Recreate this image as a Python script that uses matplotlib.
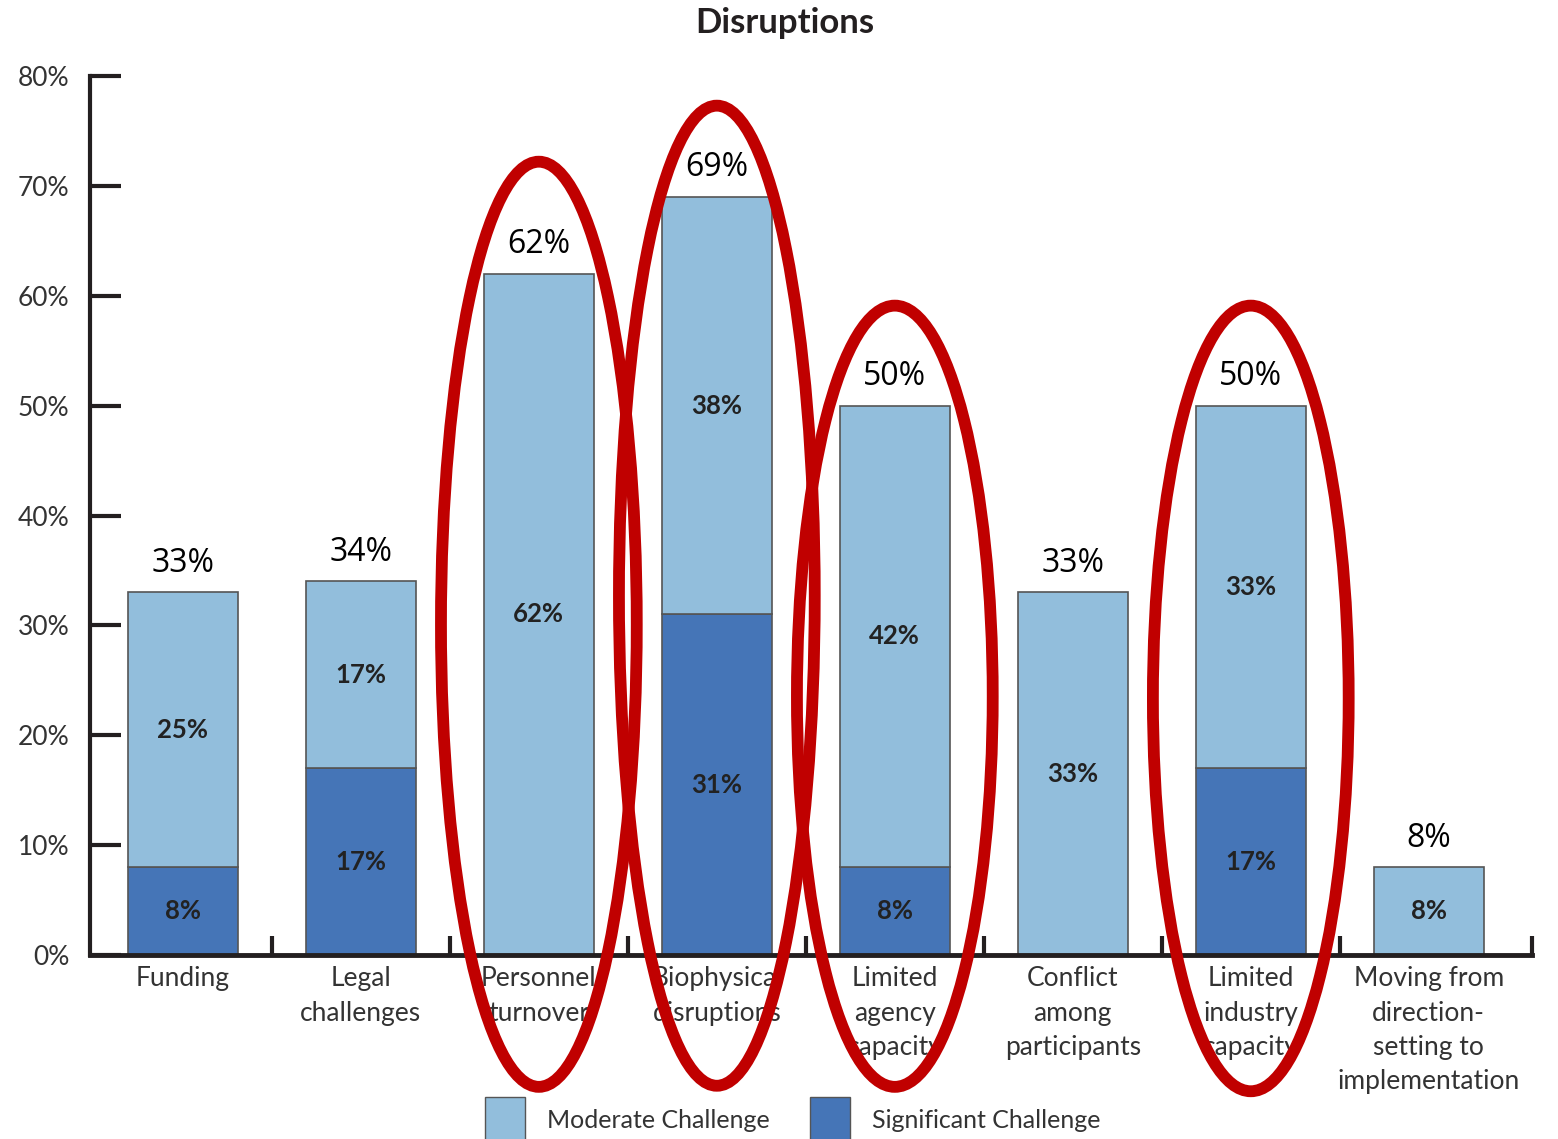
import numpy as np
import matplotlib.pyplot as plt
from matplotlib.patches import Ellipse, Patch

categories = ["Funding", "Legal\nchallenges", "Personnel\nturnover",
              "Biophysical\ndisruptions", "Limited\nagency\ncapacity",
              "Conflict\namong\nparticipants", "Limited\nindustry\ncapacity",
              "Moving from\ndirection-\nsetting to\nimplementation"]
significant = [8, 17, 0, 31, 8, 0, 17, 0]
moderate = [25, 17, 62, 38, 42, 33, 33, 8]
totals = [33, 34, 62, 69, 50, 33, 50, 8]
yticks = [0, 10, 20, 30, 40, 50, 60, 70, 80]

# highlighted categories: (index, top %, bottom %)
highlights = [(2, 72.2, -12.0), (3, 77.3, -11.9), (4, 59.1, -12.0), (6, 59.1, -12.4)]

light = "#92bedc"
dark = "#4575b7"
ink = "#231f20"
txt = "#333333"

fig = plt.figure(figsize=(15.58, 11.39), dpi=100)
ax = fig.add_axes([90/1558, 1-955/1139, (1532-90)/1558, (955-76)/1139])

x = np.arange(len(categories))
w = 0.62
ax.bar(x, significant, w, color=dark, edgecolor="#555555", linewidth=1.2, zorder=2)
ax.bar(x, moderate, w, bottom=significant, color=light, edgecolor="#555555",
       linewidth=1.2, zorder=2)

for i in range(len(categories)):
    if significant[i] > 0:
        ax.text(x[i], significant[i]/2, f"{significant[i]}%", ha="center", va="center",
                fontsize=18.5, fontweight="bold", family="Lato", color="#222222", zorder=3)
    if moderate[i] > 0:
        ax.text(x[i], significant[i] + moderate[i]/2, f"{moderate[i]}%", ha="center",
                va="center", fontsize=18.5, fontweight="bold", family="Lato",
                color="#222222", zorder=3)
    ax.annotate(f"{totals[i]}%", (x[i], totals[i]), xytext=(0, 9),
                textcoords="offset points", ha="center", va="bottom",
                fontsize=23, family="Open Sans", color="black")

ax.set_xlim(-0.522, 7.58)
ax.set_ylim(0, 80)
ax.set_yticks(yticks)
ax.set_yticklabels([f"{t}%" for t in yticks])
ax.set_xticks(x)
ax.set_xticklabels(categories, linespacing=1.47)
ax.set_xticks(list(np.arange(0.5, 7, 1)) + [7.58], minor=True)

ax.tick_params(axis="y", direction="in", length=22, width=3, color=ink, pad=15,
               labelsize=19, labelcolor=txt)
ax.tick_params(axis="x", which="major", length=0, pad=8, labelsize=19, labelcolor=txt)
ax.tick_params(axis="x", which="minor", direction="in", length=14, width=3, color=ink)
for lab in ax.get_xticklabels() + ax.get_yticklabels():
    lab.set_family("Lato")

for s in ["top", "right"]:
    ax.spines[s].set_visible(False)
ax.spines["left"].set_linewidth(3)
ax.spines["bottom"].set_linewidth(3.5)
ax.spines["left"].set_color(ink)
ax.spines["bottom"].set_color(ink)

for idx, top, bot in highlights:
    e = Ellipse((idx, (top + bot)/2), 1.1, top - bot, fill=False,
                edgecolor="#c00000", linewidth=8.5, clip_on=False, zorder=5)
    ax.add_patch(e)

fig.text(785/1558, 1-23/1139, "Disruptions", ha="center", va="center",
         fontsize=25, fontweight="bold", family="Lato", color=ink)

handles = [Patch(facecolor=light, edgecolor="#555555"),
           Patch(facecolor=dark, edgecolor="#555555")]
fig.legend(handles, ["Moderate Challenge", "Significant Challenge"],
           loc="upper left", bbox_to_anchor=(472/1558, 1-1084/1139), ncol=2,
           frameon=False, borderpad=0, handlelength=1.6,
           handleheight=2.6, handletextpad=0.9, columnspacing=1.6,
           prop={"family": "Lato", "size": 18}, labelcolor=txt)

fig.savefig("out.png", dpi=100)
